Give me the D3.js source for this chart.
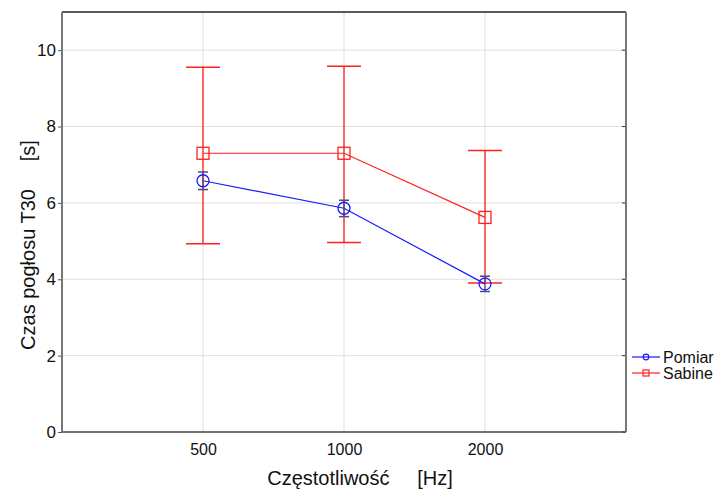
<!DOCTYPE html>
<html>
<head>
<meta charset="utf-8">
<script src="https://cdn.jsdelivr.net/npm/d3@7"></script>
<style>
  html, body { margin: 0; padding: 0; background: #fff; }
  svg { display: block; font-family: Arial, "Liberation Sans", sans-serif; }
</style>
</head>
<body>
<svg id="chart" width="717" height="495"></svg>
<script>
// Frequencies (categorical x axis)
const categories = ["500", "1000", "2000"];

// Measured reverberation time with error bar limits
const pomiarMean = [6.58, 5.86, 3.88];
const pomiarLow  = [6.35, 5.64, 3.68];
const pomiarHigh = [6.81, 6.07, 4.08];

// Sabine estimate with error bar limits
const sabineMean = [7.30, 7.30, 5.62];
const sabineLow  = [4.93, 4.96, 3.90];
const sabineHigh = [9.55, 9.58, 7.37];

const yTicks = [0, 2, 4, 6, 8, 10];

const svg = d3.select("#chart");
const m = { left: 62, right: 626, top: 12, bottom: 432 };

const x = d3.scalePoint().domain(["", ...categories, " "]).range([m.left, m.right]);
const y = d3.scaleLinear().domain([0, 11]).range([m.bottom, m.top]);

// grid
svg.append("g").selectAll("line").data(yTicks.filter(d => d > 0)).join("line")
  .attr("x1", m.left).attr("x2", m.right)
  .attr("y1", d => y(d)).attr("y2", d => y(d))
  .attr("stroke", "#dedede").attr("stroke-width", 1);
svg.append("g").selectAll("line").data(categories).join("line")
  .attr("x1", d => x(d)).attr("x2", d => x(d))
  .attr("y1", m.top).attr("y2", m.bottom)
  .attr("stroke", "#dedede").attr("stroke-width", 1);

// left axis
const yAxis = d3.axisLeft(y).tickValues(yTicks).tickSize(4).tickPadding(2);
const gy = svg.append("g").attr("transform", `translate(${m.left},0)`).call(yAxis);
gy.select(".domain").remove();
gy.selectAll(".tick line").attr("stroke", "#555");
gy.selectAll(".tick text").attr("font-size", 17).attr("fill", "#111")
  .attr("font-family", "Arial, 'Liberation Sans', sans-serif");

// right inner ticks
svg.append("g").selectAll("line").data(yTicks).join("line")
  .attr("x1", m.right - 4).attr("x2", m.right)
  .attr("y1", d => y(d)).attr("y2", d => y(d))
  .attr("stroke", "#333");

// bottom axis labels
const xAxis = d3.axisBottom(x).tickValues(categories).tickSize(0).tickPadding(12);
const gx = svg.append("g").attr("transform", `translate(0,${m.bottom})`).call(xAxis);
gx.select(".domain").remove();
gx.selectAll(".tick text").attr("font-size", 16).attr("fill", "#111")
  .attr("font-family", "Arial, 'Liberation Sans', sans-serif");

// frame
svg.append("line").attr("x1", m.left).attr("x2", m.right).attr("y1", m.top).attr("y2", m.top)
  .attr("stroke", "#222").attr("stroke-width", 1.5);
svg.append("line").attr("x1", m.left).attr("x2", m.right).attr("y1", m.bottom).attr("y2", m.bottom)
  .attr("stroke", "#444").attr("stroke-width", 1.5);
svg.append("line").attr("x1", m.left).attr("x2", m.left).attr("y1", m.top).attr("y2", m.bottom)
  .attr("stroke", "#777").attr("stroke-width", 2);
svg.append("line").attr("x1", m.right).attr("x2", m.right).attr("y1", m.top).attr("y2", m.bottom)
  .attr("stroke", "#777").attr("stroke-width", 2);

// series drawing
function drawSeries(mean, low, high, color, errColor, capW, marker) {
  const g = svg.append("g");
  const line = d3.line().x((d, i) => x(categories[i])).y(d => y(d));
  g.append("path").datum(mean).attr("d", line)
    .attr("fill", "none").attr("stroke", color).attr("stroke-width", 1.2);
  categories.forEach((c, i) => {
    const cx = x(c);
    g.append("line").attr("x1", cx).attr("x2", cx).attr("y1", y(low[i])).attr("y2", y(high[i]))
      .attr("stroke", errColor).attr("stroke-width", 1.3);
    [low[i], high[i]].forEach(v => {
      g.append("line").attr("x1", cx - capW / 2).attr("x2", cx + capW / 2)
        .attr("y1", y(v)).attr("y2", y(v))
        .attr("stroke", errColor).attr("stroke-width", 1.5);
    });
  });
  categories.forEach((c, i) => {
    const cx = x(c), cy = y(mean[i]);
    if (marker === "circle") {
      g.append("circle").attr("cx", cx).attr("cy", cy).attr("r", 6)
        .attr("fill", "none").attr("stroke", color).attr("stroke-width", 1.3);
    } else {
      g.append("rect").attr("x", cx - 6).attr("y", cy - 6).attr("width", 12).attr("height", 12)
        .attr("fill", "none").attr("stroke", color).attr("stroke-width", 1.3);
    }
  });
}

drawSeries(sabineMean, sabineLow, sabineHigh, "#ff2020", "#ff2020", 34, "square");
drawSeries(pomiarMean, pomiarLow, pomiarHigh, "#1a1aff", "#4a4a80", 10, "circle");

// axis titles
svg.append("text").attr("x", 360).attr("y", 485).attr("text-anchor", "middle")
  .attr("font-size", 20).attr("fill", "#111").attr("xml:space", "preserve")
  .text("Częstotliwość     [Hz]");
svg.append("text").attr("transform", "translate(35,245) rotate(-90)").attr("text-anchor", "middle")
  .attr("font-size", 20).attr("fill", "#111").attr("xml:space", "preserve")
  .text("Czas pogłosu T30     [s]");

// legend
const legend = [
  { name: "Pomiar", color: "#1a1aff", marker: "circle" },
  { name: "Sabine", color: "#ff2020", marker: "square" }
];
const lg = svg.append("g");
legend.forEach((d, i) => {
  const ly = 357 + i * 16;
  lg.append("line").attr("x1", 632).attr("x2", 660).attr("y1", ly).attr("y2", ly)
    .attr("stroke", d.color).attr("stroke-width", 1.2);
  if (d.marker === "circle") {
    lg.append("circle").attr("cx", 646).attr("cy", ly).attr("r", 2.8)
      .attr("fill", "none").attr("stroke", d.color).attr("stroke-width", 1.2);
  } else {
    lg.append("rect").attr("x", 643).attr("y", ly - 3).attr("width", 6).attr("height", 6)
      .attr("fill", "none").attr("stroke", d.color).attr("stroke-width", 1.2);
  }
  lg.append("text").attr("x", 663).attr("y", ly + 5.5).attr("font-size", 16).attr("fill", "#111")
    .text(d.name);
});
</script>
</body>
</html>
